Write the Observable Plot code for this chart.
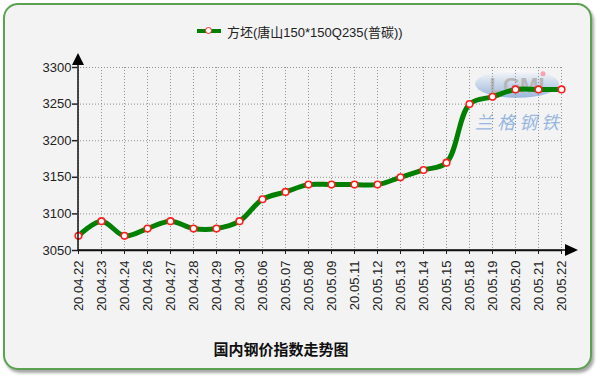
<!DOCTYPE html>
<html><head><meta charset="utf-8">
<script src="https://cdn.jsdelivr.net/npm/d3@7"></script>
<script src="https://cdn.jsdelivr.net/npm/@observablehq/plot@0.6"></script>
<style>
html,body{margin:0;padding:0;background:#fff;}
#wrap{position:relative;width:600px;height:378px;overflow:hidden;font-family:"Liberation Sans",Arial,sans-serif;}
#box{position:absolute;left:3px;top:3px;width:589px;height:367px;border:2px solid #5aa24f;border-radius:15px;background:#f3f3f3;box-shadow:2px 3px 3px rgba(0,0,0,0.35);box-sizing:border-box;}
#legend{position:absolute;left:197px;top:22px;height:18px;display:flex;align-items:center;font-size:13px;color:#222;font-family:"Liberation Sans","Noto Sans CJK SC",sans-serif;}
#legend .sw{position:relative;width:24px;height:4px;background:#008000;margin-right:6px;}
#legend .sw i{position:absolute;left:8px;top:-2px;width:5px;height:5px;border:1.5px solid #ff2020;border-radius:50%;background:#fff;}
#title{position:absolute;left:0;width:562px;top:338px;text-align:center;font-size:15px;font-weight:bold;color:#111;font-family:"Noto Sans CJK SC",sans-serif;}
#chart{position:absolute;left:0;top:0;}
</style></head>
<body>
<div id="wrap">
  <div id="box"></div>
  <div id="chart"></div>
  <div id="legend"><span class="sw"><i></i></span><span>方坯(唐山150*150Q235(普碳))</span></div>
  <div id="title">国内钢价指数走势图</div>
</div>
<script>
const dates = ["20.04.22","20.04.23","20.04.24","20.04.26","20.04.27","20.04.28","20.04.29","20.04.30","20.05.06","20.05.07","20.05.08","20.05.09","20.05.11","20.05.12","20.05.13","20.05.14","20.05.15","20.05.18","20.05.19","20.05.20","20.05.21","20.05.22"];
const prices = [3070,3090,3070,3080,3090,3080,3080,3090,3120,3130,3140,3140,3140,3140,3150,3160,3170,3250,3260,3270,3270,3270];
const yTicks = [3050,3100,3150,3200,3250,3300];
const seriesName = "方坯(唐山150*150Q235(普碳))";

const data = dates.map((d,i)=>({date:d, price:prices[i]}));

const chart = Plot.plot({
  width: 600, height: 378,
  marginLeft: 77, marginRight: 38, marginTop: 67, marginBottom: 128,
  style: {background: "transparent", fontFamily: "Liberation Sans, Arial, sans-serif", fontSize: "13px", color: "#222", overflow: "visible"},
  x: {type: "point", domain: dates, padding: 0, label: null},
  y: {domain: [3050, 3300], label: null},
  marks: [
    Plot.gridX(dates, {stroke: "#888", strokeOpacity: 0.9, strokeDasharray: "1,2", strokeWidth: 1}),
    Plot.gridY(yTicks, {stroke: "#888", strokeOpacity: 0.9, strokeDasharray: "1,2", strokeWidth: 1}),
    Plot.axisY(yTicks, {tickFormat: d => String(d), tickSize: 5, tickPadding: 1, fontSize: 13, stroke: "#222", strokeWidth: 1.5}),
    Plot.axisX(dates, {tickSize: 4, tickRotate: -90, tickPadding: 6, fontSize: 13, stroke: "#222"}),
    Plot.ruleY([3050], {stroke: "#111", strokeWidth: 1.5}),
    Plot.line(data, {x: "date", y: "price", curve: "catmull-rom", stroke: "#008000", strokeWidth: 5}),
    Plot.dot(data, {x: "date", y: "price", r: 3.3, fill: "#fff", stroke: "#ff2020", strokeWidth: 1.6})
  ]
});
document.getElementById("chart").appendChild(chart);

// axis lines with arrows, positioned from the scales
const xs = chart.scale("x"), ys = chart.scale("y");
const x0 = xs.apply(dates[0]), x1 = xs.apply(dates[dates.length-1]);
const yb = ys.apply(3050), yt = ys.apply(3300);
const svg = d3.select(chart);
const g = svg.append("g");
g.append("line").attr("x1", x0).attr("x2", x0).attr("y1", yb).attr("y2", yt - 6).attr("stroke", "#111").attr("stroke-width", 1.5);
g.append("path").attr("d", `M${x0-6},${yt-2}L${x0+6},${yt-2}L${x0},${yt-14}Z`).attr("fill", "#000");
g.append("line").attr("x1", x0).attr("x2", x1 + 8).attr("y1", yb).attr("y2", yb).attr("stroke", "#111").attr("stroke-width", 1.5);
g.append("path").attr("d", `M${x1+4},${yb-6}L${x1+4},${yb+6}L${x1+17},${yb}Z`).attr("fill", "#000");

// watermark (LGMI / 兰格钢铁)
const wx = xs.apply("20.05.20") + 2, wy = ys.apply(3277);
const grad = svg.append("defs").append("linearGradient").attr("id","wg").attr("x1",0).attr("y1",0).attr("x2",0).attr("y2",1);
grad.append("stop").attr("offset","0").attr("stop-color","#ffffff");
grad.append("stop").attr("offset","1").attr("stop-color","#5f8fd0");
const wm = svg.insert("g", ":first-child").attr("opacity", 0.6);
wm.append("ellipse").attr("cx", wx).attr("cy", wy).attr("rx", 42).attr("ry", 14).attr("fill", "url(#wg)");
wm.append("text").attr("x", wx).attr("y", wy + 9).attr("text-anchor","middle")
  .style("font-size","22px").style("font-weight","bold").style("font-family","Liberation Sans, Arial").attr("fill","#8f8f8f").text("LGMI");
wm.append("circle").attr("cx", wx + 26).attr("cy", wy - 10).attr("r", 2.5).attr("fill", "#ff6b8a");
wm.append("text").attr("x", wx + 2).attr("y", wy + 45).attr("text-anchor","middle")
  .style("font-size","18px").style("font-style","italic").style("letter-spacing","4px").style("font-family","Noto Sans CJK SC")
  .attr("fill","#5b8fd4").text("兰格钢铁");
</script>
</body></html>
